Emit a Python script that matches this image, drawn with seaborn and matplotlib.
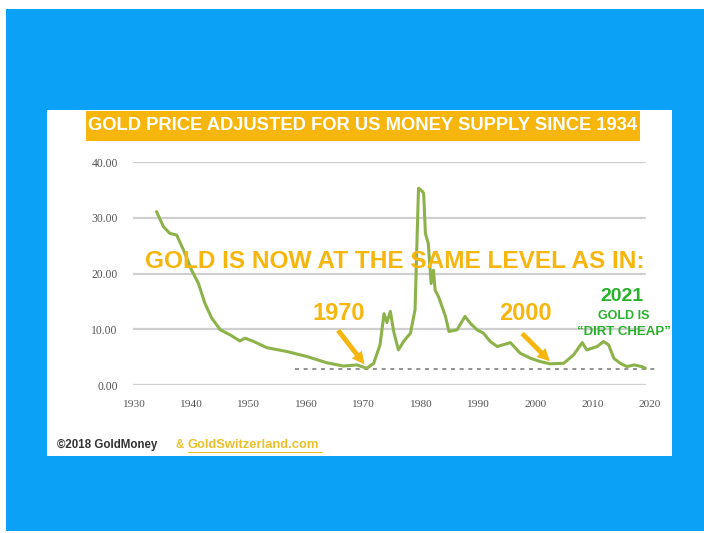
import numpy as np
import pandas as pd
import matplotlib
matplotlib.use("Agg")
import matplotlib.pyplot as plt
from matplotlib.patches import Rectangle
import seaborn as sns

# gold price adjusted for US money supply
years = [1934.1, 1935.3, 1936.4, 1937.6, 1938.8, 1940.2, 1941.4, 1942.5, 1943.7, 1945.2,
         1946.9, 1948.6, 1949.5, 1951.0, 1953.3, 1956.8, 1960.3, 1963.7, 1966.6, 1969.0,
         1970.7, 1971.9, 1973.0, 1973.7, 1974.2, 1974.8, 1975.4, 1976.2, 1977.1, 1978.3,
         1979.1, 1979.7, 1980.3, 1980.6, 1980.9, 1981.4, 1981.9, 1982.3, 1982.6, 1983.2,
         1984.4, 1985.0, 1986.4, 1987.8, 1988.7, 1989.9, 1991.0, 1992.2, 1993.4, 1995.7,
         1997.4, 1999.2, 2000.9, 2002.6, 2005.0, 2006.7, 2008.2, 2009.0, 2010.8, 2011.9,
         2012.8, 2013.7, 2014.8, 2016.0, 2017.2, 2018.6, 2019.2]
values = [31.1, 28.4, 27.2, 26.9, 24.2, 20.6, 18.2, 14.7, 12.0, 9.9,
          9.0, 7.9, 8.4, 7.8, 6.7, 6.0, 5.1, 4.0, 3.4, 3.6,
          3.0, 3.9, 7.2, 12.8, 11.2, 13.2, 9.5, 6.3, 7.8, 9.3,
          13.5, 35.3, 34.8, 34.4, 27.2, 25.4, 18.2, 20.6, 17.0, 15.8,
          12.3, 9.6, 9.9, 12.3, 11.1, 9.9, 9.3, 7.8, 6.9, 7.6,
          5.7, 4.8, 4.2, 3.8, 3.9, 5.4, 7.6, 6.3, 6.9, 7.8,
          7.2, 4.8, 3.9, 3.3, 3.6, 3.3, 3.0]
x_ticks = [1930, 1940, 1950, 1960, 1970, 1980, 1990, 2000, 2010, 2020]
y_ticks = [0, 10, 20, 30, 40]
ref_level = 2.9
ref_span = (1958.2, 2021.3)

df = pd.DataFrame({"year": years, "value": values})

W, H = 704, 533
BLUE = "#0aa1f7"
GOLD = "#f6b60d"
LINE = "#8db24a"
GREEN = "#27b22a"


def fx(x):
    return x / W


def fy(y):
    return 1 - y / H


sns.set_style("white")
plt.rcParams["font.family"] = ["Liberation Sans", "DejaVu Sans"]

fig = plt.figure(figsize=(W / 100, H / 100), dpi=100)
fig.patch.set_facecolor("white")

# blue frame and white card
fig.add_artist(Rectangle((fx(6), fy(531)), fx(698), 522 / H, transform=fig.transFigure,
                         facecolor=BLUE, edgecolor="none", zorder=0))
fig.add_artist(Rectangle((fx(47), fy(456)), fx(625), 346 / H, transform=fig.transFigure,
                         facecolor="white", edgecolor="none", zorder=0))
# title bar
fig.add_artist(Rectangle((fx(86), fy(141)), fx(554), 30 / H, transform=fig.transFigure,
                         facecolor=GOLD, edgecolor="none", zorder=1))
fig.text(fx(363), fy(126), "GOLD PRICE ADJUSTED FOR US MONEY SUPPLY SINCE 1934",
         color="white", fontsize=13.2, fontweight="bold", ha="center", va="center")

ax = fig.add_axes([fx(133), fy(385), fx(517), 223 / H])
ax.set_facecolor("none")
for y in y_ticks:
    ax.axhline(y, xmin=0, xmax=0.99, color="#cfcfcf", lw=1.6, zorder=1)

sns.lineplot(data=df, x="year", y="value", ax=ax, color=LINE, lw=2.2, zorder=3)
ax.hlines(ref_level, *ref_span, colors="#8a8a8a", linestyles=(0, (2.2, 2.6)), lw=1.3,
          zorder=2, clip_on=False)

ax.set_xlim(1930, 2020)
ax.set_ylim(0, 40)
ax.set_xticks(x_ticks)
ax.set_yticks(y_ticks)
ax.set_yticklabels([f"{v:.2f}" for v in y_ticks])
ax.tick_params(axis="y", length=0, labelsize=8.4, labelcolor="#555555", pad=11)
ax.tick_params(axis="x", length=0, labelsize=8.2, labelcolor="#555555", pad=11)
for lab in ax.get_xticklabels() + ax.get_yticklabels():
    lab.set_family(["Liberation Serif", "DejaVu Serif"])
ax.set_xlabel("")
ax.set_ylabel("")
sns.despine(ax=ax, left=True, bottom=True)

ax.text(1975.5, 22.1, "GOLD IS NOW AT THE SAME LEVEL AS IN:", color=GOLD,
        fontsize=17.6, fontweight="bold", ha="center", va="center", zorder=4)
arrow = dict(arrowstyle="simple,head_length=0.9,head_width=0.9,tail_width=0.35",
             color=GOLD, lw=0)
ax.annotate("", xy=(1970.6, 3.3), xytext=(1965.4, 10.2), arrowprops=arrow, zorder=4)
ax.annotate("", xy=(2002.9, 3.9), xytext=(1997.4, 9.6), arrowprops=arrow, zorder=4)
ax.text(1965.8, 12.9, "1970", color=GOLD, fontsize=17, fontweight="bold",
        ha="center", va="center")
ax.text(1998.3, 12.9, "2000", color=GOLD, fontsize=17, fontweight="bold",
        ha="center", va="center")
ax.text(2015.1, 15.8, "2021", color=GREEN, fontsize=14, fontweight="bold",
        ha="center", va="center")
ax.text(2015.4, 12.4, "GOLD IS", color=GREEN, fontsize=9, fontweight="bold",
        ha="center", va="center")
ax.text(2015.4, 9.5, "\u201cDIRT CHEAP\u201d", color=GREEN, fontsize=9.5, fontweight="bold",
        ha="center", va="center")

# footer
fig.text(fx(57), fy(445), "\u00a92018 GoldMoney", color="#333333", fontsize=8.3,
         fontweight="bold", ha="left", va="center")
fig.text(fx(175), fy(445), "&", color="#e9c02a", fontsize=8.3, fontweight="bold",
         ha="left", va="center")
fig.text(fx(188), fy(445), "GoldSwitzerland.com", color="#e9c02a", fontsize=9.4,
         fontweight="bold", ha="left", va="center")
fig.add_artist(plt.Line2D([fx(188), fx(322)], [fy(452), fy(452)], transform=fig.transFigure,
                          color="#e9c02a", lw=0.8))

fig.savefig("out.png", dpi=100)
